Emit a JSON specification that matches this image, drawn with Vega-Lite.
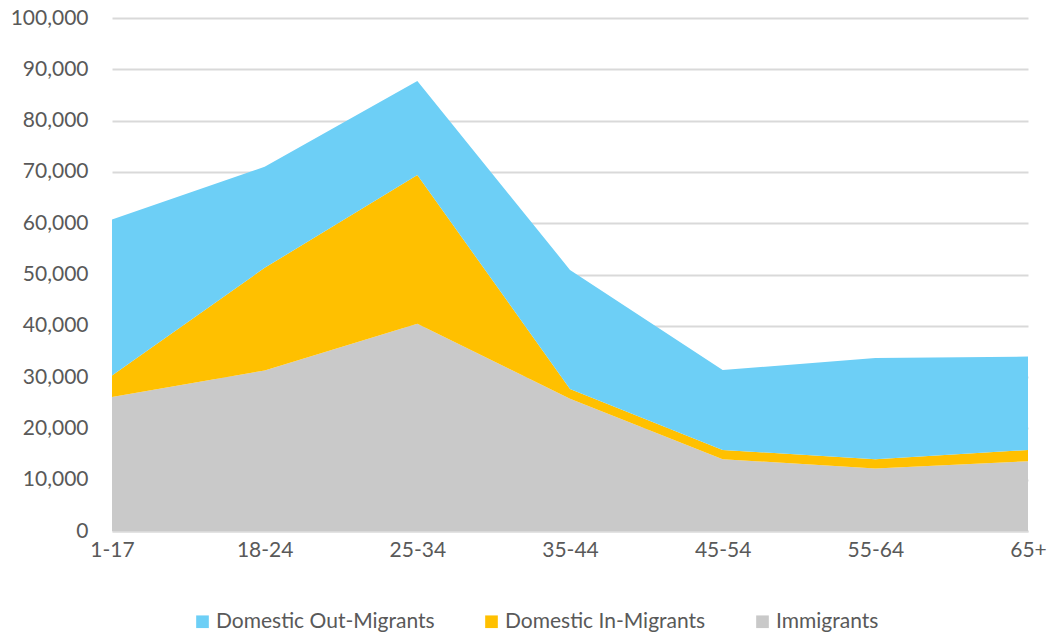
{
  "$schema": "https://vega.github.io/schema/vega-lite/v6.json",
  "width": 916,
  "height": 513,
  "autosize": {"type": "none"},
  "padding": {"left": 112, "top": 18, "right": 20, "bottom": 102},
  "background": "#ffffff",
  "config": {"view": {"stroke": null}, "font": "Lato"},
  "data": {
    "values": [
      {"age": "1-17", "series": "Immigrants", "k": 1, "value": 26100},
      {"age": "1-17", "series": "Domestic In-Migrants", "k": 2, "value": 4200},
      {"age": "1-17", "series": "Domestic Out-Migrants", "k": 3, "value": 30400},
      {"age": "18-24", "series": "Immigrants", "k": 1, "value": 31300},
      {"age": "18-24", "series": "Domestic In-Migrants", "k": 2, "value": 20000},
      {"age": "18-24", "series": "Domestic Out-Migrants", "k": 3, "value": 19700},
      {"age": "25-34", "series": "Immigrants", "k": 1, "value": 40400},
      {"age": "25-34", "series": "Domestic In-Migrants", "k": 2, "value": 29000},
      {"age": "25-34", "series": "Domestic Out-Migrants", "k": 3, "value": 18300},
      {"age": "35-44", "series": "Immigrants", "k": 1, "value": 25800},
      {"age": "35-44", "series": "Domestic In-Migrants", "k": 2, "value": 1900},
      {"age": "35-44", "series": "Domestic Out-Migrants", "k": 3, "value": 23200},
      {"age": "45-54", "series": "Immigrants", "k": 1, "value": 14000},
      {"age": "45-54", "series": "Domestic In-Migrants", "k": 2, "value": 1800},
      {"age": "45-54", "series": "Domestic Out-Migrants", "k": 3, "value": 15600},
      {"age": "55-64", "series": "Immigrants", "k": 1, "value": 12200},
      {"age": "55-64", "series": "Domestic In-Migrants", "k": 2, "value": 1800},
      {"age": "55-64", "series": "Domestic Out-Migrants", "k": 3, "value": 19700},
      {"age": "65+", "series": "Immigrants", "k": 1, "value": 13600},
      {"age": "65+", "series": "Domestic In-Migrants", "k": 2, "value": 2200},
      {"age": "65+", "series": "Domestic Out-Migrants", "k": 3, "value": 18200}
    ]
  },
  "mark": {"type": "area", "interpolate": "linear"},
  "encoding": {
    "x": {
      "field": "age",
      "type": "ordinal",
      "sort": ["1-17", "18-24", "25-34", "35-44", "45-54", "55-64", "65+"],
      "scale": {"type": "point", "padding": 0},
      "axis": {
        "title": null,
        "labelAngle": 0,
        "domain": true,
        "domainColor": "#d9d9d9",
        "domainWidth": 2,
        "ticks": false,
        "grid": false,
        "labelFont": "Lato",
        "labelFontSize": 21,
        "labelColor": "#595959",
        "labelPadding": 8
      }
    },
    "y": {
      "field": "value",
      "type": "quantitative",
      "stack": "zero",
      "scale": {"domain": [0, 100000], "nice": false},
      "axis": {
        "title": null,
        "values": [0, 10000, 20000, 30000, 40000, 50000, 60000, 70000, 80000, 90000, 100000],
        "format": ",.0f",
        "domain": false,
        "ticks": false,
        "gridColor": "#d9d9d9",
        "gridWidth": 2,
        "labelFont": "Lato",
        "labelFontSize": 21,
        "labelColor": "#595959",
        "labelPadding": 24
      }
    },
    "color": {
      "field": "series",
      "type": "nominal",
      "scale": {
        "domain": ["Domestic Out-Migrants", "Domestic In-Migrants", "Immigrants"],
        "range": ["#6DCFF6", "#FFC000", "#C9C9C9"]
      },
      "legend": {
        "title": null,
        "orient": "none",
        "direction": "horizontal",
        "legendX": 80,
        "legendY": 593,
        "padding": 0,
        "symbolType": "square",
        "symbolSize": 160,
        "symbolStrokeWidth": 0,
        "symbolOpacity": 1,
        "labelFont": "Lato",
        "labelFontSize": 21,
        "labelLimit": 0,
        "labelColor": "#595959",
        "labelOffset": 3,
        "columnPadding": 46
      }
    },
    "order": {"field": "k", "type": "quantitative"}
  }
}
